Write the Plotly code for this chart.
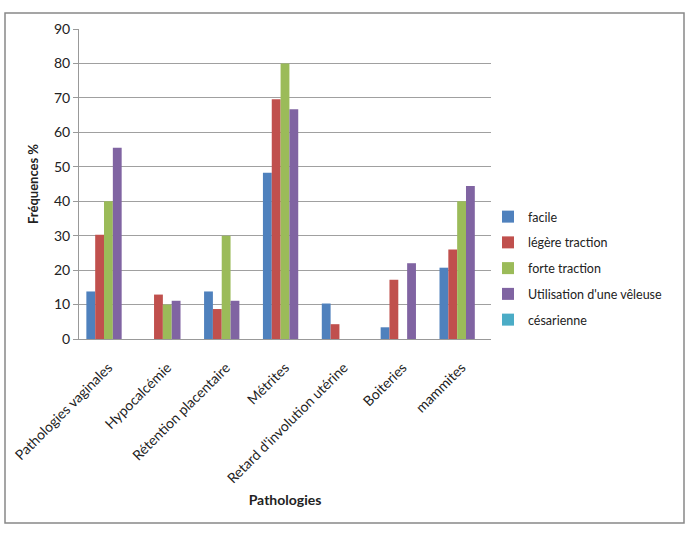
import plotly.graph_objects as go

categories = ["Pathologies vaginales", "Hypocalcémie", "Rétention placentaire", "Métrites",
              "Retard d'involution utérine", "Boiteries", "mammites"]
facile = [13.8, None, 13.8, 48.3, 10.3, 3.4, 20.7]
legere_traction = [30.3, 12.9, 8.7, 69.6, 4.3, 17.2, 26.0]
forte_traction = [40.0, 10.0, 30.0, 80.0, None, None, 40.0]
veleuse = [55.5, 11.1, 11.1, 66.7, None, 22.0, 44.4]
cesarienne = [0, 0, 0, 0, 0, 0, 0]

series = [
    ("facile", facile, "#4F81BD"),
    ("légère traction", legere_traction, "#C0504D"),
    ("forte traction", forte_traction, "#9BBB59"),
    ("Utilisation d'une vêleuse", veleuse, "#8064A2"),
    ("césarienne", cesarienne, "#4BACC6"),
]

W, H = 686, 534
L, R, T, B = 79, 195, 29, 195
pw, ph = W - L - R, H - T - B

def px_x(px):
    return (px - L) / pw

def px_y(py):
    return (H - B - py) / ph

FONT = "Lato, 'Open Sans', sans-serif"

fig = go.Figure()
for i, (name, vals, col) in enumerate(series):
    fig.add_trace(go.Bar(x=categories, y=vals, name=name, marker_color=col,
                         marker_line_width=0, legendgroup=f"g{i}"))

fig.update_layout(
    width=W, height=H,
    margin=dict(l=L, r=R, t=T, b=B, autoexpand=False),
    paper_bgcolor="white", plot_bgcolor="white",
    barmode="group", bargap=0.25, bargroupgap=0,
    font=dict(family=FONT, size=13, color="#222"),
    legend=dict(xref="container", yref="container",
                x=488 / W, y=1 - 202 / H, xanchor="left", yanchor="top",
                font=dict(size=12.5, color="#222"), tracegroupgap=6.5,
                itemwidth=30, bgcolor="rgba(0,0,0,0)"),
    xaxis=dict(
        tickangle=-45, showline=True, linecolor="#999", linewidth=1,
        ticks="", showgrid=False, ticklabelshift=0, ticklabelstandoff=14,
        title=dict(text="<b>Pathologies</b>", font=dict(size=14), standoff=9),
        tickfont=dict(size=14),
    ),
    yaxis=dict(
        range=[0, 90], dtick=10, showgrid=True, gridcolor="#A0A0A0", gridwidth=1,
        showline=True, linecolor="#999", linewidth=1,
        ticks="outside", ticklen=5, tickcolor="#999",
        zeroline=False,
        title=dict(text="<b>Fréquences %</b>", font=dict(size=13), standoff=12),
        tickfont=dict(size=14),
    ),
    showlegend=True,
)

fig.add_shape(type="rect", xref="paper", yref="paper",
              x0=px_x(5), x1=px_x(684), y0=px_y(523), y1=px_y(13),
              line=dict(color="#888", width=1.5), layer="below")

fig.write_html("out.html")
